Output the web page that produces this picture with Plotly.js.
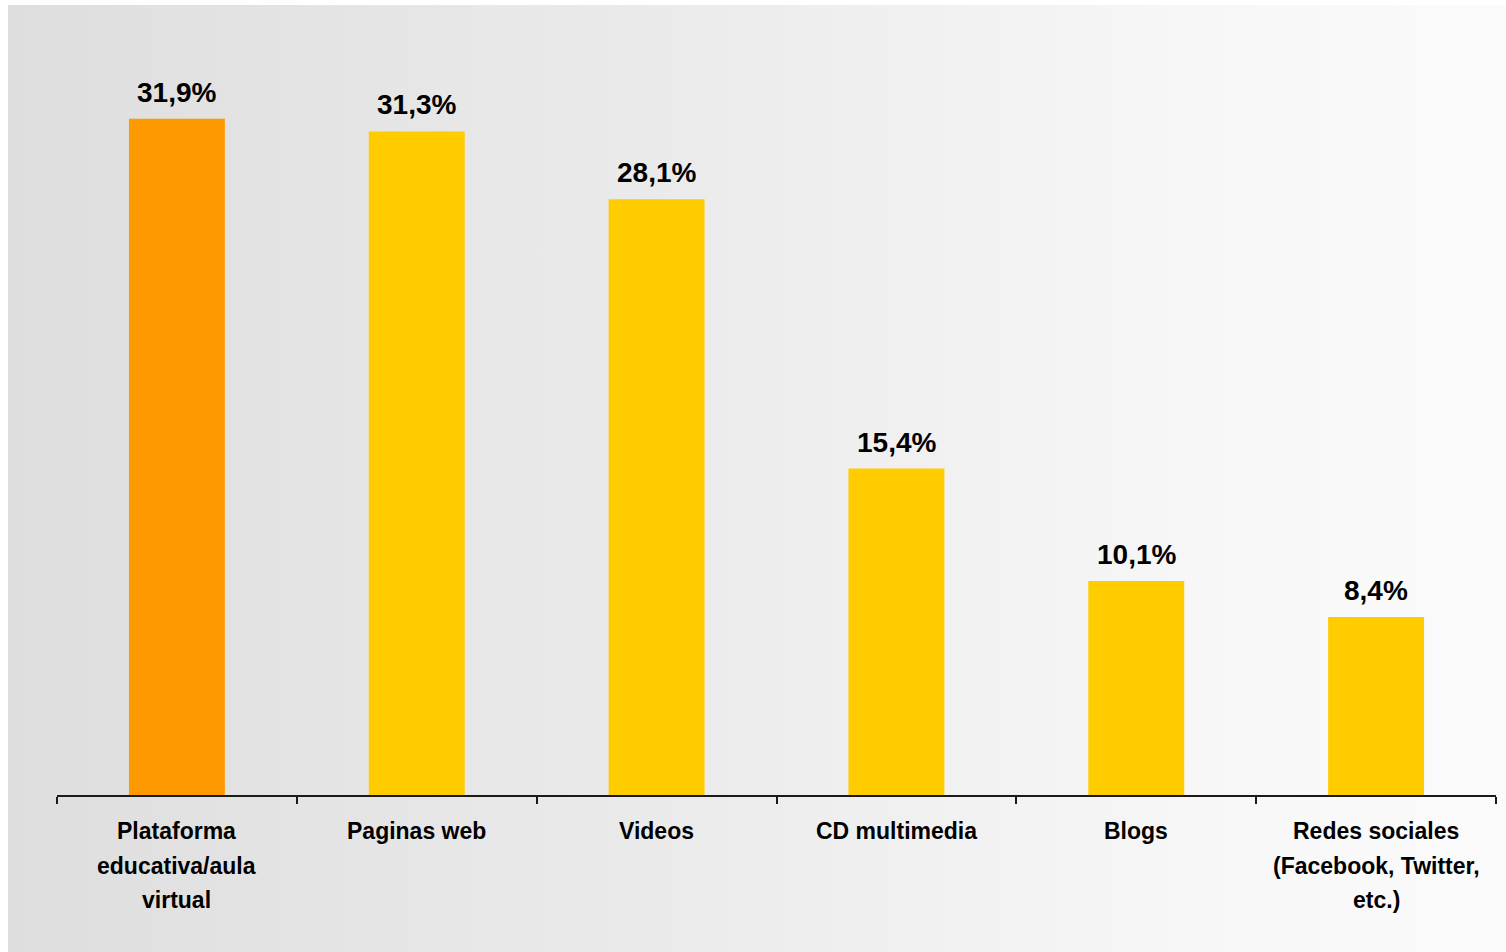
<!DOCTYPE html>
<html>
<head>
<meta charset="utf-8">
<script src="https://cdn.plot.ly/plotly-3.0.1.min.js"></script>
<style>
  html, body { margin: 0; padding: 0; background: #ffffff; }
  #bg { position: absolute; left: 8px; top: 5px; width: 1498px; height: 947px;
        background: linear-gradient(to right, #dedede 0%, #ebebeb 45%, #f7f7f7 80%, #fbfbfb 100%); }
  #chart { position: absolute; left: 0; top: 0; width: 1506px; height: 952px; }
</style>
</head>
<body>
<div id="bg"></div>
<div id="chart"></div>
<script>
const categories = [
  "Plataforma<br>educativa/aula<br>virtual",
  "Paginas web",
  "Videos",
  "CD multimedia",
  "Blogs",
  "Redes sociales<br>(Facebook, Twitter,<br>etc.)"
];
const values = [31.9, 31.3, 28.1, 15.4, 10.1, 8.4];
const barColors = ["#FF9900", "#FFCC00", "#FFCC00", "#FFCC00", "#FFCC00", "#FFCC00"];

const fmt = v => v.toFixed(1).replace('.', ',') + '%';
const FONT = 'Liberation Sans, Arial, sans-serif';

const trace = {
  type: 'bar',
  x: categories,
  y: values,
  marker: { color: barColors, line: { width: 0 } },
  hoverinfo: 'skip'
};

const annotations = categories.map((c, i) => ({
  x: c, y: values[i], xref: 'x', yref: 'y',
  text: '<b>' + fmt(values[i]) + '</b>',
  showarrow: false, yanchor: 'bottom', yshift: 9,
  font: { family: FONT, size: 28, color: '#000000' }
}));

// category labels, one annotation per line for the wide line spacing
categories.forEach(c => {
  c.split('<br>').forEach((line, k) => {
    annotations.push({
      x: c, y: 0, xref: 'x', yref: 'paper',
      text: '<b>' + line + '</b>',
      showarrow: false, yanchor: 'middle', yshift: -(36 + 34.5 * k),
      font: { family: FONT, size: 23, color: '#000000' }
    });
  });
});

const layout = {
  width: 1506, height: 952,
  margin: { l: 57, r: 10, t: 10, b: 157 },
  paper_bgcolor: 'rgba(0,0,0,0)',
  plot_bgcolor: 'rgba(0,0,0,0)',
  bargap: 0.6,
  showlegend: false,
  xaxis: {
    type: 'category',
    showline: true, linecolor: '#1a1a1a', linewidth: 2,
    ticks: 'outside', tickson: 'boundaries', ticklen: 7, tickwidth: 2, tickcolor: '#1a1a1a',
    showticklabels: false,
    showgrid: false, zeroline: false, fixedrange: true
  },
  yaxis: {
    range: [0, 37.03], visible: false, showgrid: false, zeroline: false, fixedrange: true
  },
  annotations: annotations
};

Plotly.newPlot('chart', [trace], layout, { displayModeBar: false, staticPlot: true });
</script>
</body>
</html>
